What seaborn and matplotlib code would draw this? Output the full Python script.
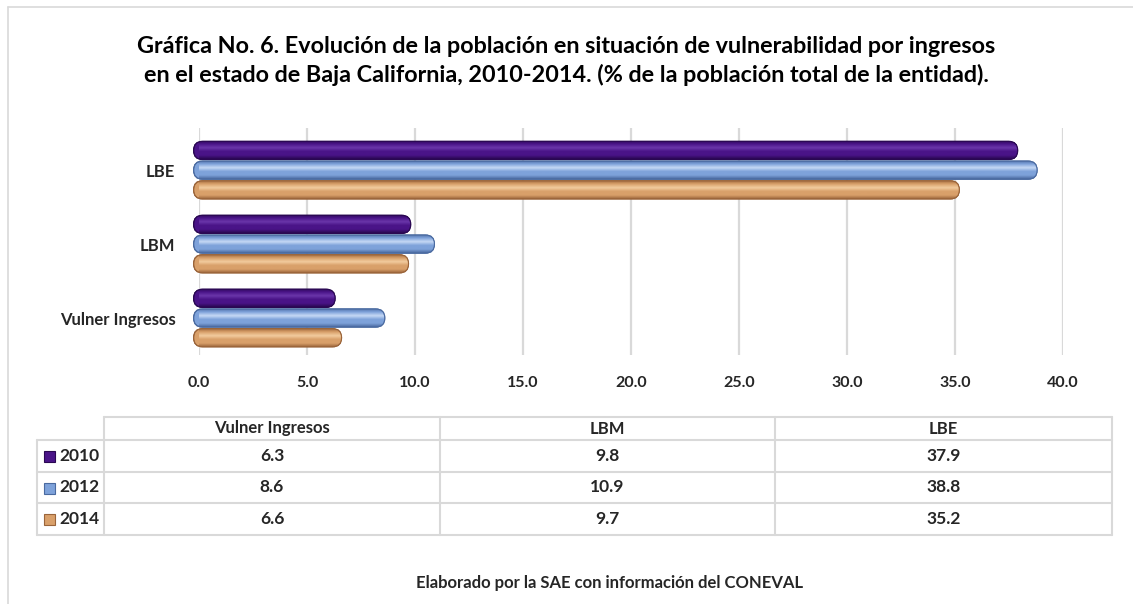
import numpy as np
import pandas as pd
import matplotlib
matplotlib.use("Agg")
import matplotlib.pyplot as plt
import matplotlib.transforms as mtransforms
import seaborn as sns
from matplotlib.patches import FancyBboxPatch, Rectangle
from matplotlib.colors import LinearSegmentedColormap

# ---- data ----
categories = ["LBE", "LBM", "Vulner Ingresos"]          # top to bottom in chart
table_columns = ["Vulner Ingresos", "LBM", "LBE"]        # order in data table
years = ["2010", "2012", "2014"]
values_2010 = {"Vulner Ingresos": 6.3, "LBM": 9.8, "LBE": 37.9}
values_2012 = {"Vulner Ingresos": 8.6, "LBM": 10.9, "LBE": 38.8}
values_2014 = {"Vulner Ingresos": 6.6, "LBM": 9.7, "LBE": 35.2}
x_ticks = [0, 5, 10, 15, 20, 25, 30, 35, 40]
title = ("Gráfica No. 6. Evolución de la población en situación de vulnerabilidad por ingresos\n"
         "en el estado de Baja California, 2010-2014. (% de la población total de la entidad).")
footer = "Elaborado por la SAE con información del CONEVAL"

series = {"2010": values_2010, "2012": values_2012, "2014": values_2014}
rows = []
for yr in years:
    for c in categories:
        rows.append({"Indicador": c, "Año": yr, "Valor": series[yr][c]})
df = pd.DataFrame(rows)

base_colors = {"2010": "#4a1488", "2012": "#7ea2da", "2014": "#d9a06a"}
dark_colors = {"2010": "#2a0852", "2012": "#4a6aa0", "2014": "#9a643a"}
light_colors = {"2010": "#6a36aa", "2012": "#c6d9f5", "2014": "#f2cc9e"}

sns.set_theme(style="white")
plt.rcParams["font.family"] = ["Lato", "DejaVu Sans"]

W, H = 1133, 604
fig = plt.figure(figsize=(W / 100, H / 100), dpi=100)

# overlay in pixel coordinates for frame, table, texts
ov = fig.add_axes([0, 0, 1, 1], zorder=0)
ov.set_xlim(0, W)
ov.set_ylim(H, 0)
ov.axis("off")

# chart frame (top and left edges visible)
ov.plot([8, W], [7, 7], color="#d9d9d9", lw=1.2)
ov.plot([8, 8], [7, H], color="#d9d9d9", lw=1.2)

ov.text(W / 2, 61, title, ha="center", va="center", fontsize=16.8,
        fontweight="bold", color="#000000", linespacing=1.4)

# ---- bar chart ----
ax_l, ax_r, ax_t, ax_b = 199, 1063, 128, 355
ax = fig.add_axes([ax_l / W, 1 - ax_b / H, (ax_r - ax_l) / W, (ax_b - ax_t) / H], zorder=2)
ax.patch.set_alpha(0)
sns.barplot(data=df, y="Indicador", x="Valor", hue="Año", order=categories,
            hue_order=years, palette=base_colors, orient="h", width=0.8,
            saturation=1, legend=False, ax=ax)

ax.set_xlim(0, 40)
ax.set_ylim(2.5, -0.57)
sx = (ax_r - ax_l) / 40.0
sy = (ax_b - ax_t) / (2.5 + 0.57)
m_aspect = sx / sy

bars = list(ax.patches)
for i, p in enumerate(bars):
    yr = years[i // len(categories)]
    x0, y0 = p.get_x(), p.get_y()
    w, h = p.get_width(), p.get_height()
    p.set_visible(False)
    h2 = h * 0.92
    y0 = y0 + (h - h2) / 2
    r = (h2 / 2) * sy / sx * 0.995
    pill = FancyBboxPatch((x0 - 0.25, y0), w + 0.25, h2,
                          boxstyle=f"round,pad=0,rounding_size={r}",
                          mutation_aspect=m_aspect, facecolor=base_colors[yr],
                          edgecolor=dark_colors[yr], lw=0.8, zorder=3, clip_on=False)
    ax.add_patch(pill)
    cmap = LinearSegmentedColormap.from_list(
        "g" + yr, [dark_colors[yr], base_colors[yr], light_colors[yr],
                   base_colors[yr], base_colors[yr], dark_colors[yr]])
    grad = np.linspace(0, 1, 64).reshape(-1, 1)
    im = ax.imshow(grad, cmap=cmap, aspect="auto", interpolation="bilinear",
                   extent=(x0 - 0.25, x0 + w, y0 + h2, y0), zorder=3.5)
    im.set_clip_path(pill)
    im.set_clip_box(None)
    edge = FancyBboxPatch((x0 - 0.25, y0), w + 0.25, h2,
                          boxstyle=f"round,pad=0,rounding_size={r}",
                          mutation_aspect=m_aspect, facecolor="none",
                          edgecolor=dark_colors[yr], lw=0.8, zorder=4, clip_on=False)
    ax.add_patch(edge)

ax.set_xlim(0, 40)
ax.set_ylim(2.5, -0.57)
ax.set_xticks(x_ticks)
ax.set_xticklabels([f"{t:.1f}" for t in x_ticks], fontsize=11.5, fontweight="bold")
shift = mtransforms.ScaledTranslation(-0.06, 0, fig.dpi_scale_trans)
for lab in ax.get_xticklabels():
    lab.set_transform(lab.get_transform() + shift)
ax.set_yticks(range(len(categories)))
ax.set_yticklabels(categories, fontsize=12, fontweight="bold")
ax.tick_params(axis="x", length=0, pad=15)
ax.tick_params(axis="y", length=0, pad=17)
ax.set_xlabel("")
ax.set_ylabel("")
ax.xaxis.grid(True, color="#d9d9d9", lw=1.6, zorder=0)
ax.yaxis.grid(False)
ax.set_axisbelow(True)
for s in ax.spines.values():
    s.set_visible(False)

# ---- data table ----
col_x = [37, 104, 440, 775, 1112]
row_y = [417, 440, 472, 503, 535]
lc = "#d9d9d9"
lw = 1.5
ov.plot([col_x[1], col_x[-1]], [row_y[0], row_y[0]], color=lc, lw=lw)
for yy in row_y[1:]:
    ov.plot([col_x[0], col_x[-1]], [yy, yy], color=lc, lw=lw)
ov.plot([col_x[0], col_x[0]], [row_y[1], row_y[-1]], color=lc, lw=lw)
for xx in col_x[1:]:
    ov.plot([xx, xx], [row_y[0], row_y[-1]], color=lc, lw=lw)

for j, c in enumerate(table_columns):
    cx = (col_x[j + 1] + col_x[j + 2]) / 2
    ov.text(cx, (row_y[0] + row_y[1]) / 2, c, ha="center", va="center",
            fontsize=12, fontweight="bold")
for i, yr in enumerate(years):
    cy = (row_y[i + 1] + row_y[i + 2]) / 2
    ov.add_patch(Rectangle((44, cy - 5), 11, 11, facecolor=base_colors[yr],
                           edgecolor=dark_colors[yr], lw=0.8))
    ov.text(59, cy, yr, ha="left", va="center", fontsize=12.5, fontweight="bold")
    for j, c in enumerate(table_columns):
        cx = (col_x[j + 1] + col_x[j + 2]) / 2
        ov.text(cx, cy, f"{series[yr][c]:.1f}", ha="center", va="center",
                fontsize=12.5, fontweight="bold")

ov.text(610, 583, footer, ha="center", va="center", fontsize=12, fontweight="bold")

fig.savefig("out.png", dpi=100)
